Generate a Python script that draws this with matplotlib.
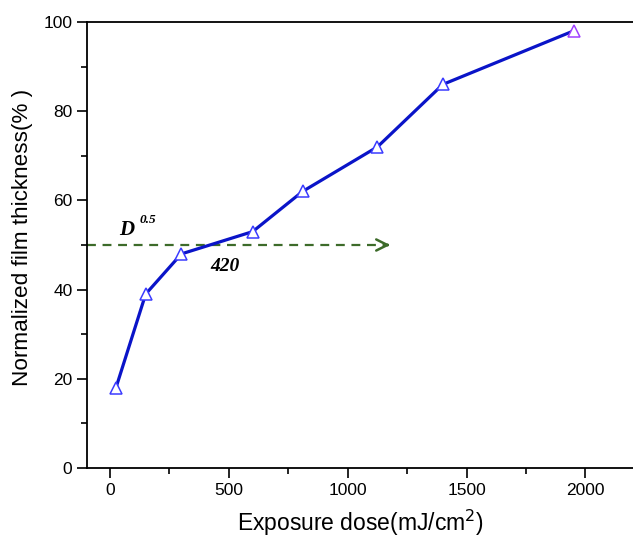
import matplotlib.pyplot as plt
from matplotlib.ticker import MultipleLocator

# data
dose = [25, 150, 300, 600, 810, 1125, 1400, 1950]
thickness = [18, 39, 48, 53, 62, 72, 86, 98]
d05_level = 50
d05_value = 420
arrow_end = 1190

plt.rcParams['font.family'] = ['Liberation Sans', 'DejaVu Sans']

fig = plt.figure(figsize=(6.33, 5.44), dpi=100)
ax = fig.add_axes([0.1374, 0.1397, 0.8626, 0.8199])

ax.plot(dose, thickness, color='#0a14c8', lw=2.3, zorder=3)
ax.plot(dose[:-1], thickness[:-1], ls='none', marker='^', ms=9, mfc='white',
        mec='#3c3cff', mew=1.1, zorder=4)
ax.plot(dose[-1:], thickness[-1:], ls='none', marker='^', ms=9, mfc='white',
        mec='#a040ff', mew=1.1, zorder=4)

# D0.5 dashed arrow
green = '#3d6b2a'
ax.plot([-97, arrow_end - 15], [d05_level, d05_level], color=green, lw=1.6,
        ls=(0, (4, 3)), zorder=2)
ax.annotate('', xy=(arrow_end, d05_level), xytext=(arrow_end - 40, d05_level),
            arrowprops=dict(arrowstyle='->', color=green, lw=1.8,
                            mutation_scale=20), zorder=2)
serif = dict(family='Liberation Serif', weight='bold', style='italic')
ax.text(38, 52.2, 'D', fontsize=15, **serif)
ax.text(124, 55, '0.5', fontsize=9.5, **serif)
ax.text(d05_value, 45.1, str(d05_value), fontsize=14, va='center', **serif)

ax.set_xlim(-97, 2200)
ax.set_ylim(0, 100)
ax.xaxis.set_major_locator(MultipleLocator(500))
ax.xaxis.set_minor_locator(MultipleLocator(250))
ax.yaxis.set_major_locator(MultipleLocator(20))
ax.yaxis.set_minor_locator(MultipleLocator(10))
ax.tick_params(which='major', direction='out', length=7, width=1.2, labelsize=12.5)
ax.tick_params(which='minor', direction='out', length=4, width=1.2)
for s in ['left', 'bottom', 'top']:
    ax.spines[s].set_linewidth(1.3)
ax.spines['right'].set_visible(False)

ax.set_xlabel('Exposure dose(mJ/cm$^2$)', fontsize=16.5, labelpad=7)
ax.set_ylabel('Normalized film thickness(% )', fontsize=16.2)
ax.yaxis.set_label_coords(-0.099, 0.516)

fig.savefig('out.png', dpi=100)
